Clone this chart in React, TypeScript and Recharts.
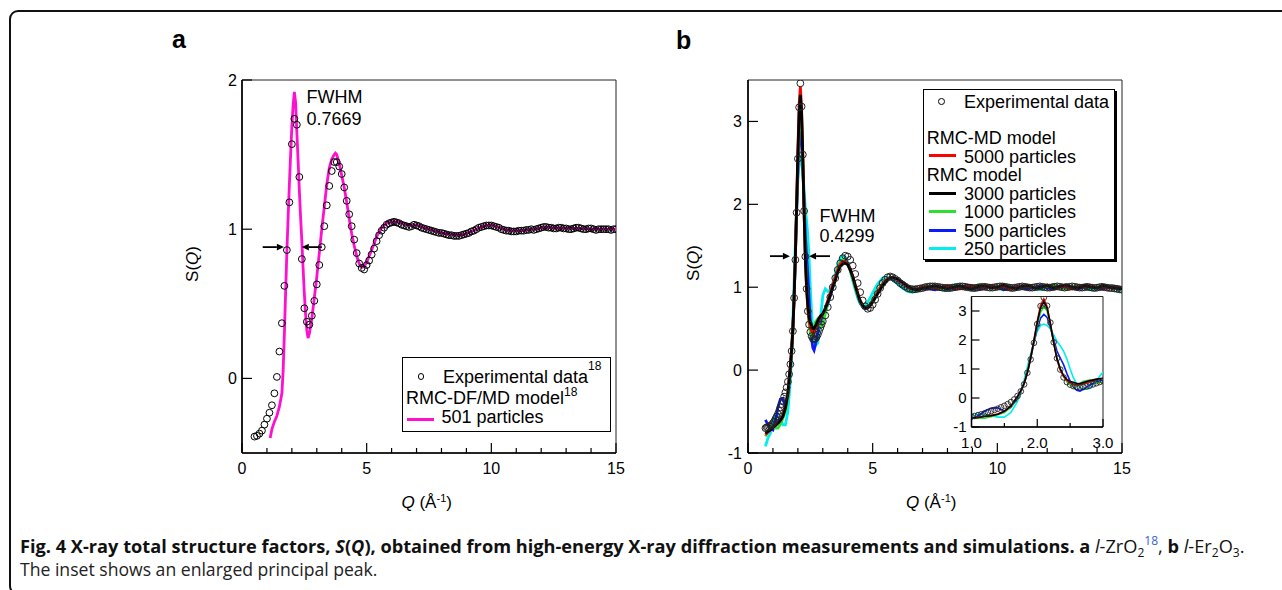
import React from 'react';
import { ComposedChart, Line, XAxis, YAxis, ReferenceArea, ReferenceLine, CartesianGrid } from 'recharts';

const FONT = '"Liberation Sans", Arial, Helvetica, sans-serif';
const CAPFONT = '"Open Sans", "Noto Sans", sans-serif';

const MAGENTA = '#ff10d0';
const RED = '#ff0000';
const BLACK = '#000000';
const GREEN = '#2ee02e';
const BLUE = '#0a1aff';
const CYAN = '#00eef2';

// ---------------- Panel a : l-ZrO2 ----------------
const qExpA = [
  0.5, 0.6, 0.7, 0.8, 0.9, 1.0, 1.1, 1.2, 1.3, 1.4,
  1.5, 1.6, 1.7, 1.8, 1.9, 2.0, 2.1, 2.2, 2.3, 2.4,
  2.5, 2.6, 2.7, 2.8, 2.9, 3.0, 3.1, 3.2, 3.3, 3.4,
  3.5, 3.6, 3.7, 3.8, 3.9, 4.0, 4.1, 4.2, 4.3, 4.4,
  4.5, 4.6, 4.7, 4.8, 4.9, 5.0, 5.1, 5.2, 5.3, 5.4,
  5.5, 5.6, 5.7, 5.8, 5.9, 6.0, 6.1, 6.2, 6.3, 6.4,
  6.5, 6.6, 6.7, 6.8, 6.9, 7.0, 7.1, 7.2, 7.3, 7.4,
  7.5, 7.6, 7.7, 7.8, 7.9, 8.0, 8.1, 8.2, 8.3, 8.4,
  8.5, 8.6, 8.7, 8.8, 8.9, 9.0, 9.1, 9.2, 9.3, 9.4,
  9.5, 9.6, 9.7, 9.8, 9.9, 10.0, 10.1, 10.2, 10.3, 10.4,
  10.5, 10.6, 10.7, 10.8, 10.9, 11.0, 11.1, 11.2, 11.3, 11.4,
  11.5, 11.6, 11.7, 11.8, 11.9, 12.0, 12.1, 12.2, 12.3, 12.4,
  12.5, 12.6, 12.7, 12.8, 12.9, 13.0, 13.1, 13.2, 13.3, 13.4,
  13.5, 13.6, 13.7, 13.8, 13.9, 14.0, 14.1, 14.2, 14.3, 14.4,
  14.5, 14.6, 14.7, 14.8, 14.9, 15.0,
];
const sExpA = [
  -0.39, -0.385, -0.37, -0.35, -0.31, -0.27, -0.23, -0.18, -0.1, 0.01,
  0.18, 0.37, 0.62, 0.86, 1.18, 1.57, 1.74, 1.7, 1.35, 0.8,
  0.47, 0.38, 0.36, 0.42, 0.52, 0.63, 0.76, 0.88, 1.02, 1.16,
  1.29, 1.39, 1.45, 1.45, 1.42, 1.37, 1.28, 1.19, 1.1, 1.02,
  0.93, 0.84, 0.77, 0.74, 0.73, 0.76, 0.79, 0.83, 0.87, 0.92,
  0.96, 0.99, 1.01, 1.03, 1.04, 1.045, 1.05, 1.045, 1.04, 1.03,
  1.025, 1.02, 1.015, 1.02, 1.03, 1.025, 1.02, 1.01, 1.005, 1.0,
  0.995, 0.99, 0.985, 0.98, 0.975, 0.975, 0.97, 0.965, 0.96, 0.96,
  0.955, 0.955, 0.955, 0.96, 0.965, 0.97, 0.975, 0.985, 0.99, 1.0,
  1.01, 1.015, 1.02, 1.025, 1.025, 1.025, 1.02, 1.015, 1.01, 1.0,
  0.995, 0.99, 0.99, 0.985, 0.985, 0.985, 0.99, 0.99, 0.99, 0.995,
  0.995, 1.0, 0.995, 1.0, 1.005, 1.01, 1.015, 1.015, 1.01, 1.01,
  1.005, 1.005, 1.01, 1.01, 1.005, 1.005, 1.0, 1.0, 1.005, 1.01,
  1.01, 1.005, 1.0, 1.0, 1.005, 1.005, 1.0, 0.995, 1.0, 1.0,
  1.0, 1.0, 1.0, 0.995, 1.0, 1.0,
];
const qModelA = [
  1.13, 1.2, 1.3, 1.4, 1.5, 1.6, 1.65, 1.7, 1.75, 1.8,
  1.85, 1.9, 1.95, 2.0, 2.05, 2.1, 2.15, 2.2, 2.25, 2.3,
  2.35, 2.4, 2.45, 2.5, 2.55, 2.6, 2.65, 2.7, 2.8, 2.9,
  3.0, 3.1, 3.2, 3.3, 3.4, 3.5, 3.6, 3.7, 3.75, 3.8,
  3.9, 4.0, 4.1, 4.2, 4.3, 4.4, 4.5, 4.6, 4.7, 4.8,
  4.9, 5.0, 5.2, 5.4, 5.6, 5.8, 6.0, 6.2, 6.4, 6.6,
  6.8, 7.0, 7.2, 7.4, 7.6, 7.8, 8.0, 8.2, 8.4, 8.6,
  8.8, 9.0, 9.2, 9.4, 9.6, 9.8, 10.0, 10.2, 10.4, 10.6,
  10.8, 11.0, 11.2, 11.4, 11.6, 11.8, 12.0, 12.2, 12.4, 12.6,
  12.8, 13.0, 13.5, 14.0, 14.5, 15.0,
];
const sModelA = [
  -0.4, -0.34, -0.29, -0.25, -0.19, -0.1, 0.05, 0.3, 0.58, 0.85,
  1.08, 1.3, 1.5, 1.69, 1.83, 1.92, 1.85, 1.65, 1.46, 1.26,
  1.08, 0.92, 0.74, 0.57, 0.43, 0.32, 0.27, 0.3, 0.4, 0.54,
  0.68, 0.84, 1.0, 1.15, 1.3, 1.41, 1.47, 1.5, 1.51, 1.5,
  1.44, 1.36, 1.28, 1.18, 1.07, 0.97, 0.89, 0.82, 0.77, 0.745,
  0.75, 0.78, 0.86, 0.95, 1.01, 1.04, 1.05, 1.05, 1.04, 1.03,
  1.025, 1.03, 1.015, 1.005, 0.995, 0.985, 0.975, 0.97, 0.965, 0.96,
  0.96, 0.97, 0.985, 1.0, 1.015, 1.025, 1.03, 1.02, 1.005, 0.995,
  0.99, 0.99, 0.99, 0.995, 1.0, 1.0, 1.01, 1.015, 1.01, 1.005,
  1.01, 1.005, 1.005, 1.0, 1.0, 1.0,
];

// ---------------- Panel b : l-Er2O3 ----------------
const qExpB = [
  0.7, 0.75, 0.8, 0.85, 0.9, 0.95, 1.0, 1.05, 1.1, 1.15,
  1.2, 1.25, 1.3, 1.35, 1.4, 1.45, 1.5, 1.55, 1.6, 1.65,
  1.7, 1.75, 1.8, 1.85, 1.9, 1.95, 2.0, 2.05, 2.1, 2.15,
  2.2, 2.25, 2.3, 2.35, 2.4, 2.45, 2.5, 2.55, 2.6, 2.65,
  2.7, 2.75, 2.8, 2.85, 2.9, 2.95, 3.0,
  3.1, 3.2, 3.3, 3.4, 3.5, 3.6, 3.7, 3.8, 3.9, 4.0,
  4.1, 4.2, 4.3, 4.4, 4.5, 4.6, 4.7, 4.8, 4.9, 5.0,
  5.1, 5.2, 5.3, 5.4, 5.5, 5.6, 5.7, 5.8, 5.9, 6.0,
  6.1, 6.2, 6.3, 6.4, 6.5, 6.6, 6.7, 6.8, 6.9, 7.0,
  7.1, 7.2, 7.3, 7.4, 7.5, 7.6, 7.7, 7.8, 7.9, 8.0,
  8.1, 8.2, 8.3, 8.4, 8.5, 8.6, 8.7, 8.8, 8.9, 9.0,
  9.1, 9.2, 9.3, 9.4, 9.5, 9.6, 9.7, 9.8, 9.9, 10.0,
  10.1, 10.2, 10.3, 10.4, 10.5, 10.6, 10.7, 10.8, 10.9, 11.0,
  11.1, 11.2, 11.3, 11.4, 11.5, 11.6, 11.7, 11.8, 11.9, 12.0,
  12.1, 12.2, 12.3, 12.4, 12.5, 12.6, 12.7, 12.8, 12.9, 13.0,
  13.1, 13.2, 13.3, 13.4, 13.5, 13.6, 13.7, 13.8, 13.9, 14.0,
  14.1, 14.2, 14.3, 14.4, 14.5, 14.6, 14.7, 14.8, 14.9, 15.0,
];
const sExpB = [
  -0.7, -0.69, -0.69, -0.68, -0.67, -0.66, -0.64, -0.62, -0.59, -0.56,
  -0.53, -0.49, -0.45, -0.41, -0.37, -0.32, -0.27, -0.21, -0.14, -0.05,
  0.07, 0.23, 0.47, 0.87, 1.33, 1.9, 2.55, 3.17, 3.46, 3.18,
  2.6, 1.92, 1.37, 0.98, 0.71, 0.55, 0.46, 0.41, 0.38, 0.37,
  0.38, 0.4, 0.43, 0.47, 0.51, 0.55, 0.59,
  0.66, 0.76, 0.88, 1.0, 1.11, 1.21, 1.29, 1.35, 1.38, 1.37,
  1.33, 1.26, 1.16, 1.05, 0.94, 0.84, 0.77, 0.74, 0.75, 0.79,
  0.85, 0.92, 0.99, 1.05, 1.09, 1.12, 1.13, 1.12, 1.1, 1.08,
  1.05, 1.03, 1.01, 0.99, 0.98, 0.975, 0.975, 0.98, 0.985, 0.99,
  1.0, 1.005, 1.01, 1.01, 1.01, 1.005, 1.0, 0.995, 0.99, 0.99,
  0.99, 0.995, 1.0, 1.005, 1.01, 1.01, 1.005, 1.0, 0.995, 0.99,
  0.99, 0.995, 1.0, 1.005, 1.005, 1.0, 0.995, 0.995, 1.0, 1.005,
  1.01, 1.01, 1.005, 1.0, 0.995, 0.99, 0.995, 1.0, 1.005, 1.01,
  1.005, 1.0, 0.995, 0.995, 1.0, 1.005, 1.01, 1.005, 1.0, 0.995,
  0.995, 1.0, 1.005, 1.01, 1.005, 1.0, 0.995, 1.0, 1.005, 1.01,
  1.005, 1.0, 0.995, 0.995, 1.0, 1.005, 1.0, 0.995, 0.99, 0.995,
  1.0, 1.005, 1.0, 0.995, 0.99, 0.99, 0.985, 0.98, 0.975, 0.97,
];
const qModelB = [
  0.7, 0.8, 0.9, 1.0, 1.1, 1.2, 1.3, 1.4, 1.5, 1.6,
  1.7, 1.75, 1.8, 1.85, 1.9, 1.95, 2.0, 2.05, 2.1, 2.15,
  2.2, 2.25, 2.3, 2.35, 2.4, 2.45, 2.5, 2.55, 2.6, 2.65,
  2.7, 2.8, 2.9, 3.0, 3.1, 3.2, 3.3, 3.4, 3.5, 3.6,
  3.7, 3.8, 3.9, 4.0, 4.1, 4.2, 4.3, 4.4, 4.5, 4.6,
  4.7, 4.8, 4.9, 5.0, 5.2, 5.4, 5.6, 5.8, 6.0, 6.2,
  6.4, 6.6, 6.8, 7.0, 7.25, 7.5, 7.75, 8.0, 8.25, 8.5,
  8.75, 9.0, 9.25, 9.5, 9.75, 10.0, 10.25, 10.5, 10.75, 11.0,
  11.25, 11.5, 11.75, 12.0, 12.25, 12.5, 12.75, 13.0, 13.25, 13.5,
  13.75, 14.0, 14.25, 14.5, 14.75, 15.0,
];
const s5000 = [
  -0.78, -0.75, -0.72, -0.69, -0.66, -0.63, -0.6, -0.55, -0.45, -0.27,
  0.06, 0.26, 0.5, 0.87, 1.38, 2.0, 2.65, 3.2, 3.42, 3.15,
  2.58, 1.9, 1.33, 0.97, 0.74, 0.6, 0.52, 0.47, 0.45, 0.46,
  0.49, 0.56, 0.63, 0.68, 0.75, 0.84, 0.93, 1.03, 1.12, 1.21,
  1.28, 1.31, 1.31, 1.28, 1.22, 1.13, 1.03, 0.93, 0.84, 0.78,
  0.75, 0.75, 0.78, 0.83, 0.94, 1.04, 1.1, 1.12, 1.09, 1.05,
  1.0, 0.98, 0.98, 1.0, 1.01, 0.99, 1.0, 1.02, 0.99, 0.98,
  1.01, 1.02, 0.99, 1.0, 1.02, 0.99, 1.01, 0.98, 1.0, 1.02,
  1.01, 0.99, 1.0, 1.03, 0.99, 1.0, 1.01, 0.98, 1.01, 1.0,
  1.02, 0.99, 1.0, 0.99, 1.01, 0.98,
];
const s3000 = [
  -0.76, -0.74, -0.72, -0.69, -0.67, -0.64, -0.61, -0.56, -0.46, -0.28,
  0.05, 0.25, 0.5, 0.88, 1.38, 1.98, 2.6, 3.1, 3.32, 3.1,
  2.55, 1.9, 1.35, 1.0, 0.78, 0.64, 0.57, 0.54, 0.5, 0.5,
  0.53, 0.6, 0.65, 0.68, 0.74, 0.82, 0.9, 1.0, 1.08, 1.18,
  1.25, 1.28, 1.29, 1.27, 1.21, 1.13, 1.02, 0.92, 0.83, 0.78,
  0.75, 0.75, 0.78, 0.82, 0.92, 1.02, 1.09, 1.12, 1.1, 1.06,
  1.01, 0.98, 0.97, 0.985, 1.0, 1.02, 1.0, 0.98, 1.0, 1.02,
  0.99, 0.98, 1.01, 1.02, 0.99, 1.0, 1.03, 1.0, 0.98, 1.01,
  1.02, 0.99, 1.0, 1.02, 0.99, 1.01, 1.03, 1.0, 0.99, 1.02,
  1.0, 0.99, 1.02, 1.0, 0.99, 0.98,
];
const s1000 = [
  -0.8, -0.73, -0.7, -0.68, -0.7, -0.7, -0.65, -0.58, -0.5, -0.32,
  0.02, 0.22, 0.48, 0.86, 1.36, 1.95, 2.5, 2.95, 3.15, 3.0,
  2.5, 1.92, 1.4, 1.02, 0.75, 0.56, 0.45, 0.41, 0.42, 0.5,
  0.58, 0.62, 0.52, 0.55, 0.68, 0.82, 0.93, 1.02, 1.12, 1.22,
  1.3, 1.33, 1.32, 1.28, 1.2, 1.1, 1.0, 0.9, 0.82, 0.77,
  0.76, 0.77, 0.8, 0.85, 0.96, 1.05, 1.11, 1.12, 1.09, 1.04,
  0.99, 0.97, 0.98, 1.01, 1.02, 1.0, 0.98, 1.0, 1.02, 1.0,
  0.98, 1.0, 1.03, 1.01, 0.99, 1.0, 1.02, 1.0, 0.98, 1.01,
  1.02, 1.0, 0.99, 1.01, 1.03, 1.0, 0.98, 1.0, 1.02, 1.01,
  0.99, 1.0, 1.02, 1.0, 0.99, 0.97,
];
const s500 = [
  -0.6, -0.66, -0.7, -0.72, -0.62, -0.45, -0.35, -0.34, -0.45, -0.32,
  0.0, 0.2, 0.48, 0.88, 1.38, 1.9, 2.4, 2.75, 2.88, 2.78,
  2.42, 2.02, 1.62, 1.38, 1.15, 0.85, 0.58, 0.38, 0.27, 0.24,
  0.3, 0.45, 0.56, 0.62, 0.7, 0.8, 0.9, 1.0, 1.1, 1.2,
  1.27, 1.31, 1.32, 1.29, 1.22, 1.12, 1.01, 0.9, 0.81, 0.76,
  0.74, 0.75, 0.79, 0.84, 0.95, 1.04, 1.1, 1.11, 1.08, 1.03,
  0.99, 0.97, 0.97, 0.99, 0.98, 0.97, 0.99, 1.01, 0.98, 0.99,
  1.02, 1.0, 0.98, 0.99, 1.01, 1.0, 0.97, 0.99, 1.01, 0.99,
  0.98, 1.0, 1.02, 0.99, 0.98, 1.0, 1.01, 0.99, 0.98, 1.0,
  1.01, 0.99, 0.98, 1.0, 0.99, 0.97,
];
const s250 = [
  -0.92, -0.82, -0.76, -0.65, -0.56, -0.55, -0.6, -0.66, -0.66, -0.5,
  -0.12, 0.2, 0.62, 1.08, 1.52, 1.95, 2.3, 2.5, 2.55, 2.5,
  2.38, 2.18, 1.95, 1.8, 1.62, 1.35, 1.0, 0.7, 0.48, 0.36,
  0.3, 0.33, 0.6, 0.9, 0.98, 0.95, 0.96, 1.05, 1.16, 1.27,
  1.35, 1.38, 1.36, 1.3, 1.2, 1.08, 0.97, 0.87, 0.8, 0.77,
  0.78, 0.82, 0.87, 0.93, 1.04, 1.11, 1.12, 1.09, 1.04, 0.99,
  0.95, 0.94, 0.96, 0.99, 1.01, 1.0, 0.97, 0.96, 0.99, 1.01,
  0.99, 0.97, 0.98, 1.01, 1.02, 0.99, 0.97, 0.99, 1.0, 1.02,
  1.0, 0.98, 0.97, 1.0, 1.02, 1.0, 0.98, 0.99, 1.01, 0.99,
  0.97, 0.99, 1.01, 1.0, 0.98, 0.96,
];

const xTicks = [0, 1, 2, 3, 4, 5, 6, 7, 8, 9, 10, 11, 12, 13, 14, 15];
const yTicksA = [0, 1, 2];
const yTicksB = [-1, 0, 1, 2, 3];
const insetXTicks = [1, 1.5, 2, 2.5, 3];
const insetYTicks = [-1, 0, 1, 2, 3];

const pts = (qs: number[], ss: number[]) => qs.map((q, i) => ({ q, s: ss[i] }));

const expA = pts(qExpA, sExpA);
const modelA = pts(qModelA, sModelA);
const expB = pts(qExpB, sExpB);
const modelsB = [
  { key: 'm250', color: CYAN, data: pts(qModelB, s250) },
  { key: 'm500', color: BLUE, data: pts(qModelB, s500) },
  { key: 'm1000', color: GREEN, data: pts(qModelB, s1000) },
  { key: 'm5000', color: RED, data: pts(qModelB, s5000) },
  { key: 'm3000', color: BLACK, data: pts(qModelB, s3000) },
];

// ---------- tick renderers ----------
const makeXTick = (isMajor: (v: number) => boolean, majorLen: number, minorLen: number, fs: number, dy: number, fmt: (v: number) => string) =>
  (p: any) => {
    const v = p.payload.value;
    const maj = isMajor(v);
    return (
      <g>
        <line x1={p.x} x2={p.x} y1={p.y} y2={p.y - (maj ? majorLen : minorLen)} stroke="#000" strokeWidth={1.2} />
        {maj ? (
          <text x={p.x} y={p.y + dy} textAnchor="middle" fontSize={fs} fontFamily={FONT} fill="#000">{fmt(v)}</text>
        ) : null}
      </g>
    );
  };
const makeYTick = (len: number, fs: number, gap: number) => (p: any) => {
  const v = p.payload.value;
  return (
    <g>
      <line x1={p.x} x2={p.x + len} y1={p.y} y2={p.y} stroke="#000" strokeWidth={1.2} />
      <text x={p.x - gap} y={p.y + fs * 0.36} textAnchor="end" fontSize={fs} fontFamily={FONT} fill="#000">{String(v)}</text>
    </g>
  );
};

const arrowShape = (p: any) => {
  const { x1, y1, x2, y2 } = p;
  const dx = x2 - x1;
  const dy = y2 - y1;
  const L = Math.hypot(dx, dy) || 1;
  const ux = dx / L;
  const uy = dy / L;
  const hl = 7;
  const hw = 3.3;
  const bx = x2 - ux * hl;
  const by = y2 - uy * hl;
  return (
    <g>
      <line x1={x1} y1={y1} x2={bx} y2={by} stroke="#000" strokeWidth={1.8} />
      <polygon points={`${x2},${y2} ${bx - uy * hw},${by + ux * hw} ${bx + uy * hw},${by - ux * hw}`} fill="#000" />
    </g>
  );
};

const dotStyle = { r: 3.4, stroke: '#000', strokeWidth: 1, fill: 'none' };

// ---------- HTML text helper ----------
const T = ({ x, b, fs, children, style, k = 0.8465, font = FONT }: any) => (
  <div
    style={{
      position: 'absolute',
      left: x,
      top: b - k * fs,
      fontSize: fs,
      lineHeight: `${fs}px`,
      fontFamily: font,
      whiteSpace: 'nowrap',
      color: '#000',
      ...style,
    }}
  >
    {children}
  </div>
);
const Sup = ({ children, fs = 11, up = 8, color }: any) => (
  <span style={{ fontSize: fs, lineHeight: '1', position: 'relative', top: -up, color }}>{children}</span>
);
const Sub = ({ children, fs = 10, down = 4 }: any) => (
  <span style={{ fontSize: fs, lineHeight: '1', position: 'relative', top: down }}>{children}</span>
);
const LegLine = ({ x1, x2, y, color }: any) => (
  <div style={{ position: 'absolute', left: x1, top: y - 1.5, width: x2 - x1, height: 3, background: color }} />
);
const LegCircle = ({ cx, cy }: any) => (
  <div style={{ position: 'absolute', left: cx - 3.4, top: cy - 3.4, width: 6.8, height: 6.8, border: '1px solid #000', borderRadius: '50%', boxSizing: 'border-box' }} />
);
const VLabel = ({ cx, cy }: any) => (
  <div
    style={{
      position: 'absolute',
      left: cx,
      top: cy,
      transform: 'translate(-50%, -50%) rotate(-90deg)',
      fontFamily: FONT,
      fontSize: 17,
      lineHeight: '17px',
      whiteSpace: 'nowrap',
    }}
  >
    S(<i>Q</i>)
  </div>
);
const QLabel = ({ x, b }: any) => (
  <T x={x} b={b} fs={17}>
    <i>Q</i> (Å<Sup fs={11} up={6}>-1</Sup>)
  </T>
);

export default function App() {
  return (
    <div style={{ position: 'absolute', left: 0, top: 0, width: 1282, height: 590, overflow: 'hidden', background: '#fff', fontFamily: FONT }}>
      {/* outer frame */}
      <div style={{ position: 'absolute', left: 9, top: 10, width: 1400, height: 585, border: '2px solid #111', borderRadius: 9, boxSizing: 'border-box' }} />

      {/* panel letters */}
      <T x={172} b={48} fs={25} style={{ fontWeight: 'bold' }}>a</T>
      <T x={676} b={49} fs={25} style={{ fontWeight: 'bold' }}>b</T>

      {/* ---------------- Panel a ---------------- */}
      <div style={{ position: 'absolute', left: 180, top: 60 }}>
        <ComposedChart width={460} height={460} margin={{ top: 20, right: 24, left: 0, bottom: 0 }}>
          <XAxis
            type="number"
            dataKey="q"
            domain={[0, 15]}
            ticks={xTicks}
            interval={0}
            allowDataOverflow
            height={67}
            tickSize={0}
            tickMargin={0}
            tickLine={false}
            axisLine={{ stroke: '#000', strokeWidth: 1.6 }}
            tick={makeXTick((v) => v % 5 === 0, 10, 5, 16, 20.5, (v) => String(v))}
          />
          <YAxis
            type="number"
            dataKey="s"
            domain={[-0.5, 2]}
            ticks={yTicksA}
            interval={0}
            allowDataOverflow
            width={62}
            tickSize={0}
            tickMargin={0}
            tickLine={false}
            axisLine={{ stroke: '#000', strokeWidth: 1.6 }}
            tick={makeYTick(10, 16, 5)}
          />
          <ReferenceArea x1={0} x2={15} y1={-0.5} y2={2} fill="none" stroke="#222" strokeWidth={1} ifOverflow="visible" />
          <Line data={expA} dataKey="s" stroke="none" dot={dotStyle} activeDot={false} isAnimationActive={false} />
          <Line data={modelA} dataKey="s" type="linear" stroke={MAGENTA} strokeWidth={2.8} dot={false} activeDot={false} isAnimationActive={false} />
          <ReferenceLine segment={[{ x: 0.83, y: 0.88 }, { x: 1.68, y: 0.88 }]} shape={arrowShape} ifOverflow="visible" />
          <ReferenceLine segment={[{ x: 3.2, y: 0.88 }, { x: 2.4, y: 0.88 }]} shape={arrowShape} ifOverflow="visible" />
        </ComposedChart>
      </div>
      <T x={306.5} b={103.6} fs={18}>FWHM</T>
      <T x={306.5} b={125.6} fs={18}>0.7669</T>
      <VLabel cx={192} cy={264} />
      <QLabel x={401.5} b={508.5} />

      {/* legend a */}
      <div style={{ position: 'absolute', left: 402, top: 357, width: 209, height: 75, border: '1px solid #000', boxSizing: 'border-box' }} />
      <LegCircle cx={421} cy={376.7} />
      <T x={443} b={383} fs={18}>Experimental data<Sup fs={12} up={12.5}>18</Sup></T>
      <T x={406} b={404.6} fs={18}>RMC-DF/MD model<Sup fs={12} up={8}>18</Sup></T>
      <LegLine x1={407} x2={434} y={419} color={MAGENTA} />
      <T x={441.5} b={423.5} fs={18}>501 particles</T>

      {/* ---------------- Panel b ---------------- */}
      <div style={{ position: 'absolute', left: 690, top: 60 }}>
        <ComposedChart width={460} height={460} margin={{ top: 20, right: 28, left: 0, bottom: 0 }}>
          <XAxis
            type="number"
            dataKey="q"
            domain={[0, 15]}
            ticks={xTicks}
            interval={0}
            allowDataOverflow
            height={67}
            tickSize={0}
            tickMargin={0}
            tickLine={false}
            axisLine={{ stroke: '#000', strokeWidth: 1.6 }}
            tick={makeXTick((v) => v % 5 === 0, 10, 5, 16, 20.5, (v) => String(v))}
          />
          <YAxis
            type="number"
            dataKey="s"
            domain={[-1, 3.5]}
            ticks={yTicksB}
            interval={0}
            allowDataOverflow
            width={58}
            tickSize={0}
            tickMargin={0}
            tickLine={false}
            axisLine={{ stroke: '#000', strokeWidth: 1.6 }}
            tick={makeYTick(10, 16, 6)}
          />
          <ReferenceArea x1={0} x2={15} y1={-1} y2={3.5} fill="none" stroke="#222" strokeWidth={1} ifOverflow="visible" />
          {modelsB.map((m) => (
            <Line key={m.key} data={m.data} dataKey="s" type="linear" stroke={m.color} strokeWidth={2.8} dot={false} activeDot={false} isAnimationActive={false} />
          ))}
          <Line data={expB} dataKey="s" stroke="none" dot={{ ...dotStyle, stroke: '#222' }} activeDot={false} isAnimationActive={false} />
          <ReferenceLine segment={[{ x: 0.88, y: 1.375 }, { x: 1.68, y: 1.375 }]} shape={arrowShape} ifOverflow="visible" />
          <ReferenceLine segment={[{ x: 3.29, y: 1.375 }, { x: 2.45, y: 1.375 }]} shape={arrowShape} ifOverflow="visible" />
        </ComposedChart>
      </div>
      <T x={819.5} b={222.2} fs={18}>FWHM</T>
      <T x={819.5} b={242.2} fs={18}>0.4299</T>
      <VLabel cx={693} cy={263} />
      <QLabel x={906} b={508} />

      {/* legend b */}
      <div style={{ position: 'absolute', left: 923, top: 89, width: 192, height: 171, border: '1px solid #000', boxSizing: 'border-box', boxShadow: '2px 2px 0 #000', background: '#fff' }} />
      <LegCircle cx={941.7} cy={101.7} />
      <T x={964} b={108} fs={18}>Experimental data</T>
      <T x={926.7} b={144.6} fs={18}>RMC-MD model</T>
      <LegLine x1={929} x2={956} y={155.7} color={RED} />
      <T x={964} b={162.9} fs={18}>5000 particles</T>
      <T x={926.7} b={181.2} fs={18}>RMC model</T>
      <LegLine x1={929} x2={956} y={193.3} color={BLACK} />
      <T x={964} b={200.2} fs={18}>3000 particles</T>
      <LegLine x1={929} x2={956} y={211.7} color={GREEN} />
      <T x={964} b={218.6} fs={18}>1000 particles</T>
      <LegLine x1={929} x2={956} y={230} color={BLUE} />
      <T x={964} b={236.9} fs={18}>500 particles</T>
      <LegLine x1={929} x2={956} y={248.3} color={CYAN} />
      <T x={964} b={255.2} fs={18}>250 particles</T>

      {/* inset */}
      <div style={{ position: 'absolute', left: 940, top: 286 }}>
        <ComposedChart width={175} height={170} margin={{ top: 10.5, right: 12, left: 0, bottom: 0 }}>
          <CartesianGrid horizontal={false} vertical={false} fill="#fff" />
          <XAxis
            type="number"
            dataKey="q"
            domain={[1, 3]}
            ticks={insetXTicks}
            interval={0}
            allowDataOverflow
            height={29}
            tickSize={0}
            tickMargin={0}
            tickLine={false}
            axisLine={{ stroke: '#000', strokeWidth: 1.4 }}
            tick={makeXTick((v) => Number.isInteger(v), 8, 4, 15, 20.5, (v) => v.toFixed(1))}
          />
          <YAxis
            type="number"
            dataKey="s"
            domain={[-1, 3.5]}
            ticks={insetYTicks}
            interval={0}
            allowDataOverflow
            width={31.5}
            tickSize={0}
            tickMargin={0}
            tickLine={false}
            axisLine={{ stroke: '#000', strokeWidth: 1.4 }}
            tick={makeYTick(8, 15, 5)}
          />
          <ReferenceArea x1={1} x2={3} y1={-1} y2={3.5} fill="none" stroke="#222" strokeWidth={1} ifOverflow="visible" />
          {modelsB.map((m) => (
            <Line key={'i' + m.key} data={m.data} dataKey="s" type="linear" stroke={m.color} strokeWidth={1.6} dot={false} activeDot={false} isAnimationActive={false} />
          ))}
          <Line data={expB} dataKey="s" stroke="none" dot={{ r: 2.8, stroke: '#222', strokeWidth: 0.9, fill: 'none' }} activeDot={false} isAnimationActive={false} />
        </ComposedChart>
      </div>

      {/* caption */}
      <T x={20} b={553} fs={18.2} k={0.888} font={CAPFONT} style={{ color: '#111' }}>
        <b>Fig. 4 X-ray total structure factors, <i>S</i>(<i>Q</i>), obtained from high-energy X-ray diffraction measurements and simulations. a </b>
        <i>l</i>-ZrO<Sub fs={12} down={4}>2</Sub><Sup fs={12} up={8} color="#3366cc">18</Sup>, <b>b</b> <i>l</i>-Er<Sub fs={12} down={4}>2</Sub>O<Sub fs={12} down={4}>3</Sub>.
      </T>
      <T x={20} b={577} fs={17.6} k={0.888} font={CAPFONT} style={{ color: '#222' }}>
        The inset shows an enlarged principal peak.
      </T>
    </div>
  );
}
